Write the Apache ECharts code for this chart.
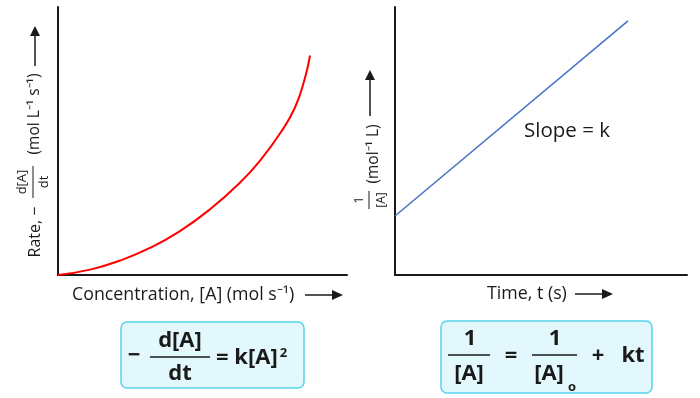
<!DOCTYPE html>
<html>
<head>
<meta charset="utf-8">
<script src="https://cdn.jsdelivr.net/npm/echarts@6/dist/echarts.min.js"></script>
<style>
  html, body { margin: 0; padding: 0; background: #fff; }
  #chart { width: 700px; height: 398px; }
</style>
</head>
<body>
<div id="chart"></div>
<script>
// second order reaction: rate vs [A] (left), 1/[A] vs t (right)
var concX = [0, 1.11, 2.15, 3.18, 4.22, 5.26, 6.30, 6.99, 7.68, 8.20, 8.55, 8.72];
var rateY = [0, 0.20, 0.54, 1.01, 1.64, 2.45, 3.45, 4.27, 5.28, 6.25, 7.37, 8.19];
var timeX = [0, 7.98];
var invA = [2.2, 9.48];

var FONT = '"Open Sans", sans-serif';
var INK = '#1a1a1a';

function pairs(xs, ys) {
  return xs.map(function (x, i) { return [x, ys[i]]; });
}

function txt(x, y, s, size, opts) {
  opts = opts || {};
  var st = {
    text: s,
    fontFamily: FONT,
    fontSize: size,
    fontWeight: opts.bold ? 'bold' : 'normal',
    fill: INK,
    align: opts.align || 'center',
    verticalAlign: 'middle'
  };
  if (opts.rich) st.rich = opts.rich;
  return { type: 'text', x: x, y: y, rotation: opts.rot || 0, style: st };
}

function seg(x1, y1, x2, y2, w) {
  return {
    type: 'line',
    shape: { x1: x1, y1: y1, x2: x2, y2: y2 },
    style: { stroke: INK, lineWidth: w || 1.5 }
  };
}

function tri(points) {
  return { type: 'polygon', shape: { points: points }, style: { fill: INK } };
}

function box(x, y, w, h) {
  return {
    type: 'rect',
    shape: { x: x, y: y, width: w, height: h, r: 6 },
    style: { fill: '#e2f8fc', stroke: '#55d3ea', lineWidth: 1.5 }
  };
}

var axisBase = {
  type: 'value',
  min: 0,
  max: 10,
  axisLine: { show: true, lineStyle: { color: INK, width: 2 } },
  axisTick: { show: false },
  axisLabel: { show: false },
  splitLine: { show: false }
};

function axis(idx) {
  return Object.assign({ gridIndex: idx }, axisBase);
}

var R = Math.PI / 2;
var EQ = 22;
var graphics = [
  // left y label (rotated)
  txt(35, 232, 'Rate, −', 16, { rot: R }),
  txt(22, 182, 'd[A]', 13, { rot: R }),
  seg(33, 166, 33, 198, 1),
  txt(44, 182, 'dt', 13, { rot: R }),
  txt(35, 114, '(mol L⁻¹ s⁻¹)', 15.5, { rot: R }),
  seg(35, 66, 35, 34, 1.5),
  tri([[35, 26], [30, 36], [40, 36]]),

  // left x label
  txt(72, 295, 'Concentration, [A] (mol s⁻¹)', 17.8, { align: 'left' }),
  seg(305, 295, 333, 295, 1.5),
  tri([[343, 295], [332, 290], [332, 300]]),

  // right y label
  txt(360, 200, '1', 12, { rot: R }),
  seg(369, 191, 369, 209, 1),
  txt(382, 200, '[A]', 12, { rot: R }),
  txt(374, 154, '(mol⁻¹ L)', 15.5, { rot: R }),
  seg(370, 116, 370, 78, 1.5),
  tri([[370, 70], [365, 80], [375, 80]]),

  // right x label
  txt(487, 294, 'Time, t (s)', 17.8, { align: 'left' }),
  seg(575, 294, 603, 294, 1.5),
  tri([[613, 294], [602, 289], [602, 299]]),

  txt(524, 131, 'Slope = k', 20.5, { align: 'left' }),

  // left equation
  box(121, 322, 183, 66),
  txt(134, 356, '−', EQ, { bold: true }),
  txt(180, 341, 'd[A]', EQ, { bold: true }),
  seg(150, 357, 210, 357, 1.5),
  txt(180, 374, 'dt', EQ, { bold: true }),
  txt(216, 358, '= k[A]{sup|2}', EQ, {
    bold: true,
    align: 'left',
    rich: {
      sup: { fontFamily: FONT, fontSize: 13, fontWeight: 'bold', fill: INK, verticalAlign: 'top', padding: [0, 0, 0, 2] }
    }
  }),

  // right equation
  box(441, 321, 211, 72),
  txt(470, 339, '1', EQ, { bold: true }),
  seg(448, 355, 490, 355, 1.5),
  txt(469, 374, '[A]', EQ, { bold: true }),
  txt(511, 356, '=', EQ, { bold: true }),
  txt(555, 339, '1', EQ, { bold: true }),
  seg(532, 355, 577, 355, 1.5),
  txt(549, 374, '[A]', EQ, { bold: true }),
  txt(572, 387, 'o', 13, { bold: true }),
  txt(598, 356, '+', EQ, { bold: true }),
  txt(633, 356, 'kt', EQ, { bold: true })
];

var chart = echarts.init(document.getElementById('chart'));
chart.setOption({
  animation: false,
  backgroundColor: '#fff',
  grid: [
    { left: 58, top: 7, width: 289, height: 268 },
    { left: 395, top: 7, width: 292, height: 268 }
  ],
  xAxis: [axis(0), axis(1)],
  yAxis: [axis(0), axis(1)],
  series: [
    {
      type: 'line',
      xAxisIndex: 0,
      yAxisIndex: 0,
      data: pairs(concX, rateY),
      smooth: 0.5,
      showSymbol: false,
      lineStyle: { color: '#ff0000', width: 2 }
    },
    {
      type: 'line',
      xAxisIndex: 1,
      yAxisIndex: 1,
      data: pairs(timeX, invA),
      showSymbol: false,
      lineStyle: { color: '#4472c4', width: 1.5 }
    }
  ],
  graphic: graphics
});
</script>
</body>
</html>
